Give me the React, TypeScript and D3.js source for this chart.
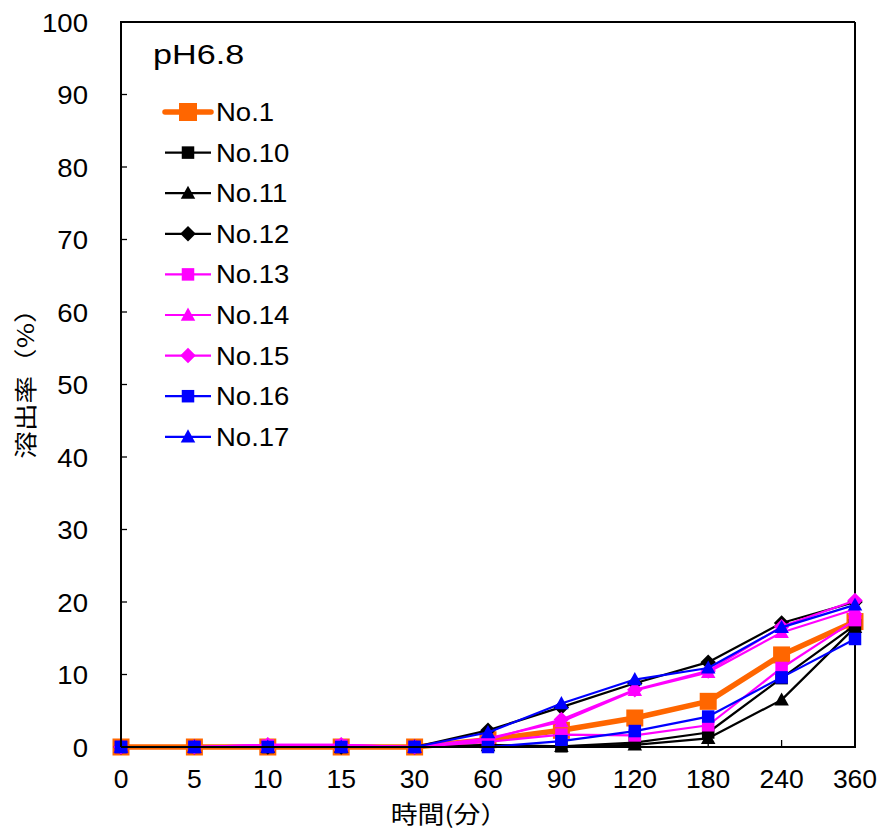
import React from "react";
import * as d3 from "d3";

const categories = ["0", "5", "10", "15", "30", "60", "90", "120", "180", "240", "360"];
const yTicks = [0, 10, 20, 30, 40, 50, 60, 70, 80, 90, 100];

const seriesNames = ["No.1", "No.10", "No.11", "No.12", "No.13", "No.14", "No.15", "No.16", "No.17"];
const seriesColors = ["#FF6600", "#000000", "#000000", "#000000", "#FF00FF", "#FF00FF", "#FF00FF", "#0000FF", "#0000FF"];
const seriesMarkers = ["square", "square", "triangle", "diamond", "square", "triangle", "diamond", "square", "triangle"];

const no1 = [0, 0, 0, 0, 0, 1.0, 2.3, 4.0, 6.3, 12.7, 17.3];
const no10 = [0, 0, 0, 0, 0, 0.3, 0.1, 0.6, 2.0, 9.5, 16.8];
const no11 = [0, 0, 0, 0, 0, 0.2, 0.1, 0.3, 1.2, 6.5, 16.5];
const no12 = [0, 0, 0, 0, 0, 2.3, 5.5, 8.8, 11.7, 17.1, 20.0];
const no13 = [0, 0, 0.2, 0.2, 0, 0.7, 1.7, 1.6, 3.0, 10.9, 17.5];
const no14 = [0, 0, 0.3, 0.3, 0, 1.2, 3.5, 7.8, 10.3, 15.8, 19.0];
const no15 = [0, 0, 0.3, 0.3, 0, 1.0, 3.8, 7.9, 10.5, 16.6, 20.2];
const no16 = [0, 0, 0, 0, 0, 0, 0.8, 2.2, 4.2, 9.6, 14.9];
const no17 = [0, 0, 0, 0, 0, 2.0, 6.0, 9.3, 10.9, 16.5, 19.6];
const seriesValues = [no1, no10, no11, no12, no13, no14, no15, no16, no17];

const W = 881;
const H = 834;
const left = 121;
const right = 855;
const top = 22;
const bottom = 747;
const font = "Arial, 'Liberation Sans', sans-serif";
const cjkFont = "'Noto Sans CJK JP', sans-serif";

function SText({
  x,
  y,
  sx,
  size,
  anchor,
  family,
  rotate,
  children,
}: {
  x: number;
  y: number;
  sx: number;
  size: number;
  anchor?: string;
  family?: string;
  rotate?: number;
  children: React.ReactNode;
}) {
  const rot = rotate ? ` rotate(${rotate})` : "";
  return (
    <g transform={`translate(${x},${y})${rot} scale(${sx},1)`}>
      <text x={0} y={0} textAnchor={anchor || "start"} fontFamily={family || font} fontSize={size} fill="#000">
        {children}
      </text>
    </g>
  );
}

function Marker({ shape, x, y, size, color }: { shape: string; x: number; y: number; size: number; color: string }) {
  if (shape === "square") {
    return <rect x={x - size / 2} y={y - size / 2} width={size} height={size} fill={color} />;
  }
  if (shape === "triangle") {
    const h = size;
    const pts = `${x},${y - h * 0.6} ${x + h * 0.58},${y + h * 0.45} ${x - h * 0.58},${y + h * 0.45}`;
    return <polygon points={pts} fill={color} />;
  }
  const r = size * 0.62;
  const pts = `${x},${y - r} ${x + r},${y} ${x},${y + r} ${x - r},${y}`;
  return <polygon points={pts} fill={color} />;
}

export default function App() {
  const x = d3.scalePoint<string>().domain(categories).range([left, right]);
  const y = d3.scaleLinear().domain([0, 100]).range([bottom, top]);
  const line = d3
    .line<number>()
    .x((_, i) => x(categories[i]) as number)
    .y((v) => y(v));

  return (
    <svg width={W} height={H} style={{ position: "absolute", left: 0, top: 0, background: "#fff" }}>
      <rect x={0} y={0} width={W} height={H} fill="#fff" />
      {/* frame */}
      <line x1={left} x2={right} y1={top} y2={top} stroke="#000" strokeWidth={2} />
      <line x1={right} x2={right} y1={top} y2={bottom} stroke="#000" strokeWidth={2} />
      {/* y ticks */}
      {yTicks.map((t) => (
        <g key={"y" + t}>
          <line x1={left} x2={left + 6} y1={y(t)} y2={y(t)} stroke="#000" strokeWidth={1.3} />
          <SText x={88} y={y(t) + 9.5} sx={1.04} size={26.5} anchor="end">
            {t}
          </SText>
        </g>
      ))}
      {/* x ticks */}
      {categories.map((c) => (
        <g key={"x" + c}>
          <line x1={x(c)} x2={x(c)} y1={bottom} y2={bottom - 7} stroke="#000" strokeWidth={1.3} />
          <SText x={x(c) as number} y={788} sx={1.02} size={26} anchor="middle">
            {c}
          </SText>
        </g>
      ))}
      {/* series */}
      {seriesValues.map((vals, si) => {
        const isMain = si === 0;
        const color = seriesColors[si];
        const size = isMain ? 17 : 12.5;
        return (
          <g key={"s" + si}>
            <path
              d={line(vals) as string}
              fill="none"
              stroke={color}
              strokeWidth={isMain ? 5.5 : 2.2}
              strokeLinejoin="round"
            />
            {vals.map((v, i) => (
              <Marker
                key={i}
                shape={seriesMarkers[si]}
                x={x(categories[i]) as number}
                y={y(v)}
                size={size}
                color={color}
              />
            ))}
          </g>
        );
      })}
      {/* axes on top */}
      <line x1={left} x2={left} y1={top - 1} y2={bottom} stroke="#000" strokeWidth={2} />
      <line x1={left} x2={right + 1} y1={bottom} y2={bottom} stroke="#000" strokeWidth={2} />
      {/* title */}
      <SText x={153} y={64} sx={1.22} size={28}>
        pH6.8
      </SText>
      {/* legend */}
      {seriesNames.map((name, si) => {
        const ly = 112 + si * 40.6;
        const isMain = si === 0;
        const color = seriesColors[si];
        return (
          <g key={"l" + si}>
            <line
              x1={165}
              x2={211}
              y1={ly}
              y2={ly}
              stroke={color}
              strokeWidth={isMain ? 5.5 : 2.2}
              strokeLinecap={isMain ? "round" : "butt"}
            />
            <Marker shape={seriesMarkers[si]} x={188} y={ly} size={isMain ? 18 : 12.5} color={color} />
            <SText x={216} y={ly + 9} sx={1.1} size={25}>
              {name}
            </SText>
          </g>
        );
      })}
      {/* axis titles */}
      <SText x={449} y={823} sx={1.12} size={24} anchor="middle" family={cjkFont}>
        時間(分）
      </SText>
      <SText x={34} y={377} sx={1.2} size={23} anchor="middle" family={cjkFont} rotate={-90}>
        溶出率（%）
      </SText>
    </svg>
  );
}
